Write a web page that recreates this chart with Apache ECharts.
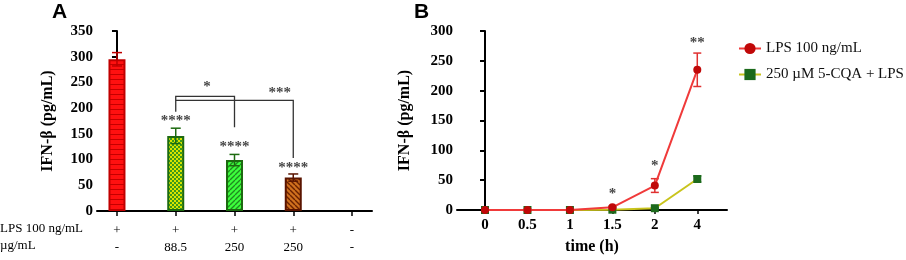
<!DOCTYPE html>
<html>
<head>
<meta charset="utf-8">
<script src="https://cdn.jsdelivr.net/npm/echarts@6/dist/echarts.min.js"></script>
<style>
  html, body { margin: 0; padding: 0; background: #fff; }
  #chart { width: 906px; height: 260px; }
</style>
</head>
<body>
<div id="chart"></div>
<script>
// ---- panel A data ----
var lpsRow = ['+', '+', '+', '+', '-']
var doseRow = ['-', '88.5', '250', '250', '-']
var barMeans = [295, 146, 99, 65]
var barSd = [13, 15, 11, 7]
var barStars = ['', '****', '****', '****']
var barStarY = [0, 175, 125, 84]
// brackets: [x1, x2, yTop, yLeftEnd, yRightEnd]
var brackets = [
  [1, 2, 223, 193, 163],
  [1, 3, 215, 215, 103]
]
var bracketStars = [[1.53, 240, '*'], [2.77, 229, '***']]

// ---- panel B data ----
var timeLabels = ['0', '0.5', '1', '1.5', '2', '4']
var lpsMeans = [0, 0, 0, 4.5, 41, 235]
var lpsSd = [0.5, 0.5, 0.5, 1.5, 11.5, 28]
var cqaMeans = [0, 0, 0, 0.5, 3, 52]
var cqaSd = [0.3, 0.3, 0.3, 0.3, 1, 5]
var timeStars = [[3, 27, '*'], [4, 74, '*'], [5, 279, '**']]

var serif = '"Liberation Serif", "Times New Roman", serif'

// 填充纹理
function makePattern(w, h, draw) {
  var c = document.createElement('canvas')
  c.width = w
  c.height = h
  draw(c.getContext('2d'), w, h)
  return { image: c, repeat: 'repeat' }
}

var redHatch = makePattern(8, 5, function (ctx, w, h) {
  ctx.fillStyle = '#ff1010'
  ctx.fillRect(0, 0, w, h)
  ctx.fillStyle = '#c40000'
  ctx.fillRect(0, 4, w, 1)
})
var checker = makePattern(4, 4, function (ctx, w, h) {
  ctx.fillStyle = '#d8e400'
  ctx.fillRect(0, 0, w, h)
  ctx.fillStyle = '#3a9a1a'
  ctx.fillRect(0, 0, 2, 2)
  ctx.fillRect(2, 2, 2, 2)
})
var greenStripe = makePattern(5, 5, function (ctx, w, h) {
  ctx.fillStyle = '#3cff3c'
  ctx.fillRect(0, 0, w, h)
  ctx.strokeStyle = '#1f8a1f'
  ctx.lineWidth = 1.3
  for (var k = -1; k <= 1; k++) {
    ctx.beginPath()
    ctx.moveTo(k * w, h)
    ctx.lineTo(k * w + w, 0)
    ctx.stroke()
  }
})
var brownStripe = makePattern(5, 5, function (ctx, w, h) {
  ctx.fillStyle = '#d0701e'
  ctx.fillRect(0, 0, w, h)
  ctx.strokeStyle = '#6a2000'
  ctx.lineWidth = 1.4
  for (var k = -1; k <= 1; k++) {
    ctx.beginPath()
    ctx.moveTo(k * w, 0)
    ctx.lineTo(k * w + w, h)
    ctx.stroke()
  }
})

var barFills = [redHatch, checker, greenStripe, brownStripe]
var barBorders = ['#c00000', '#1d6a10', '#1d6a10', '#5a1400']

var chart = echarts.init(document.getElementById('chart'))

function errorBars(xi, yi, means, sds, colors, cap, z) {
  return {
    type: 'custom',
    xAxisIndex: xi,
    yAxisIndex: yi,
    z: z,
    silent: true,
    renderItem: function (params, api) {
      var x = api.value(0)
      var hi = api.coord([x, api.value(2)])
      var lo = api.coord([x, api.value(1)])
      var style = { stroke: api.visual('color'), lineWidth: 1.5 }
      return {
        type: 'group',
        children: [
          { type: 'line', shape: { x1: hi[0], y1: hi[1], x2: lo[0], y2: lo[1] }, style: style },
          { type: 'line', shape: { x1: hi[0] - cap, y1: hi[1], x2: hi[0] + cap, y2: hi[1] }, style: style },
          { type: 'line', shape: { x1: lo[0] - cap, y1: lo[1], x2: lo[0] + cap, y2: lo[1] }, style: style }
        ]
      }
    },
    data: means.map(function (m, i) {
      return { value: [i, m - sds[i], m + sds[i]], itemStyle: { color: colors[i] } }
    })
  }
}

function starSeries(xi, yi, data, size) {
  return {
    type: 'scatter',
    xAxisIndex: xi,
    yAxisIndex: yi,
    symbolSize: 0,
    silent: true,
    z: 10,
    label: {
      show: true,
      position: 'inside',
      formatter: function (p) { return p.value[2] },
      color: '#111',
      fontFamily: serif,
      fontWeight: 'bold',
      fontSize: size
    },
    data: data
  }
}

var tickFont = { color: '#000', fontFamily: serif, fontWeight: 'bold', fontSize: 15 }
var axisName = { fontFamily: serif, fontWeight: 'bold', fontSize: 16, color: '#000' }

var option = {
  animation: false,
  backgroundColor: '#fff',
  textStyle: { fontFamily: serif },
  graphic: [
    { type: 'text', left: 52, top: 2, style: { text: 'A', font: 'bold 21px "Liberation Sans", Arial, sans-serif', fill: '#000' } },
    { type: 'text', left: 414, top: 2, style: { text: 'B', font: 'bold 21px "Liberation Sans", Arial, sans-serif', fill: '#000' } },
    { type: 'text', left: 0, top: 222, style: { text: 'LPS 100 ng/mL', font: '13px ' + serif, fill: '#000' } },
    { type: 'text', left: 0, top: 239, style: { text: 'µg/mL', font: '13px ' + serif, fill: '#000' } }
  ],
  legend: {
    left: 733,
    top: 36,
    orient: 'vertical',
    itemWidth: 22,
    itemHeight: 14,
    itemGap: 11,
    textStyle: { fontFamily: serif, fontSize: 15, color: '#111' },
    data: ['LPS 100 ng/mL', '250 µM 5-CQA + LPS']
  },
  grid: [
    { left: 97, top: 31, width: 275, height: 180 },
    { left: 457, top: 31, width: 270, height: 180 }
  ],
  xAxis: [
    {
      gridIndex: 0,
      type: 'value',
      min: -0.34,
      max: 4.34,
      splitLine: { show: false },
      axisLine: { lineStyle: { color: '#000', width: 2 } },
      axisTick: { show: true, customValues: [0, 1, 2, 3, 4], length: 5, lineStyle: { color: '#000', width: 1.5 } },
      axisLabel: {
        customValues: [0, 1, 2, 3, 4],
        margin: 11,
        color: '#000',
        fontFamily: serif,
        fontSize: 13,
        lineHeight: 17,
        formatter: function (v) { return lpsRow[v] + '\n' + doseRow[v] }
      }
    },
    {
      gridIndex: 1,
      type: 'value',
      min: -0.66,
      max: 5.7,
      name: 'time (h)',
      nameLocation: 'middle',
      nameGap: 29,
      nameTextStyle: axisName,
      splitLine: { show: false },
      axisLine: { lineStyle: { color: '#000', width: 2 } },
      axisTick: { show: true, customValues: [0, 1, 2, 3, 4, 5], length: 4, lineStyle: { color: '#000', width: 1.5 } },
      axisLabel: Object.assign({
        customValues: [0, 1, 2, 3, 4, 5],
        margin: 8,
        formatter: function (v) { return timeLabels[v] }
      }, tickFont)
    }
  ],
  yAxis: [
    {
      gridIndex: 0,
      type: 'value',
      min: 0,
      max: 350,
      interval: 50,
      name: 'IFN-β (pg/mL)',
      nameLocation: 'middle',
      nameGap: 41,
      nameTextStyle: axisName,
      splitLine: { show: false },
      axisLine: { show: true, lineStyle: { color: '#000', width: 2 } },
      axisTick: { show: true, length: 5, lineStyle: { color: '#000', width: 2 } },
      axisLabel: Object.assign({ margin: 4 }, tickFont)
    },
    {
      gridIndex: 1,
      type: 'value',
      min: 0,
      max: 300,
      interval: 50,
      name: 'IFN-β (pg/mL)',
      nameLocation: 'middle',
      nameGap: 44,
      nameTextStyle: axisName,
      splitLine: { show: false },
      axisLine: { show: true, lineStyle: { color: '#000', width: 2 } },
      axisTick: { show: true, length: 5, lineStyle: { color: '#000', width: 2 } },
      axisLabel: Object.assign({ margin: 4 }, tickFont)
    }
  ],
  series: [
    // 柱状图
    {
      type: 'bar',
      xAxisIndex: 0,
      yAxisIndex: 0,
      barWidth: 17,
      z: 2,
      data: barMeans.map(function (m, i) {
        return {
          value: [i, m],
          itemStyle: { color: barFills[i], borderColor: barBorders[i], borderWidth: 2 }
        }
      })
    },
    errorBars(0, 0, barMeans, barSd, barBorders, 5, 3),
    // 显著性括号
    {
      type: 'custom',
      xAxisIndex: 0,
      yAxisIndex: 0,
      silent: true,
      z: 4,
      renderItem: function (params, api) {
        var a = api.coord([api.value(0), api.value(2)])
        var b = api.coord([api.value(1), api.value(2)])
        var al = api.coord([api.value(0), api.value(3)])
        var br = api.coord([api.value(1), api.value(4)])
        return {
          type: 'polyline',
          shape: { points: [al, a, b, br] },
          style: { stroke: '#333', lineWidth: 1.3, fill: null }
        }
      },
      data: brackets
    },
    starSeries(0, 0, bracketStars, 15),
    starSeries(0, 0, barStars.map(function (s, i) { return [i, barStarY[i], s] }).filter(function (d) { return d[2] }), 15),
    // 时间曲线
    {
      name: '250 µM 5-CQA + LPS',
      type: 'line',
      xAxisIndex: 1,
      yAxisIndex: 1,
      symbol: 'rect',
      symbolSize: 8,
      z: 3,
      lineStyle: { color: '#c9c41c', width: 2 },
      itemStyle: { color: '#1c6a1c' },
      data: cqaMeans.map(function (m, i) { return [i, m] })
    },
    {
      name: 'LPS 100 ng/mL',
      type: 'line',
      xAxisIndex: 1,
      yAxisIndex: 1,
      symbol: 'circle',
      symbolSize: 8,
      z: 5,
      lineStyle: { color: '#f03a3a', width: 2 },
      itemStyle: { color: '#c00808' },
      data: lpsMeans.map(function (m, i) { return [i, m] })
    },
    errorBars(1, 1, lpsMeans, lpsSd, lpsMeans.map(function () { return '#e03030' }), 4, 4),
    errorBars(1, 1, cqaMeans, cqaSd, cqaMeans.map(function () { return '#1c6a1c' }), 4, 2),
    starSeries(1, 1, timeStars, 15)
  ]
}

chart.setOption(option)
</script>
</body>
</html>
